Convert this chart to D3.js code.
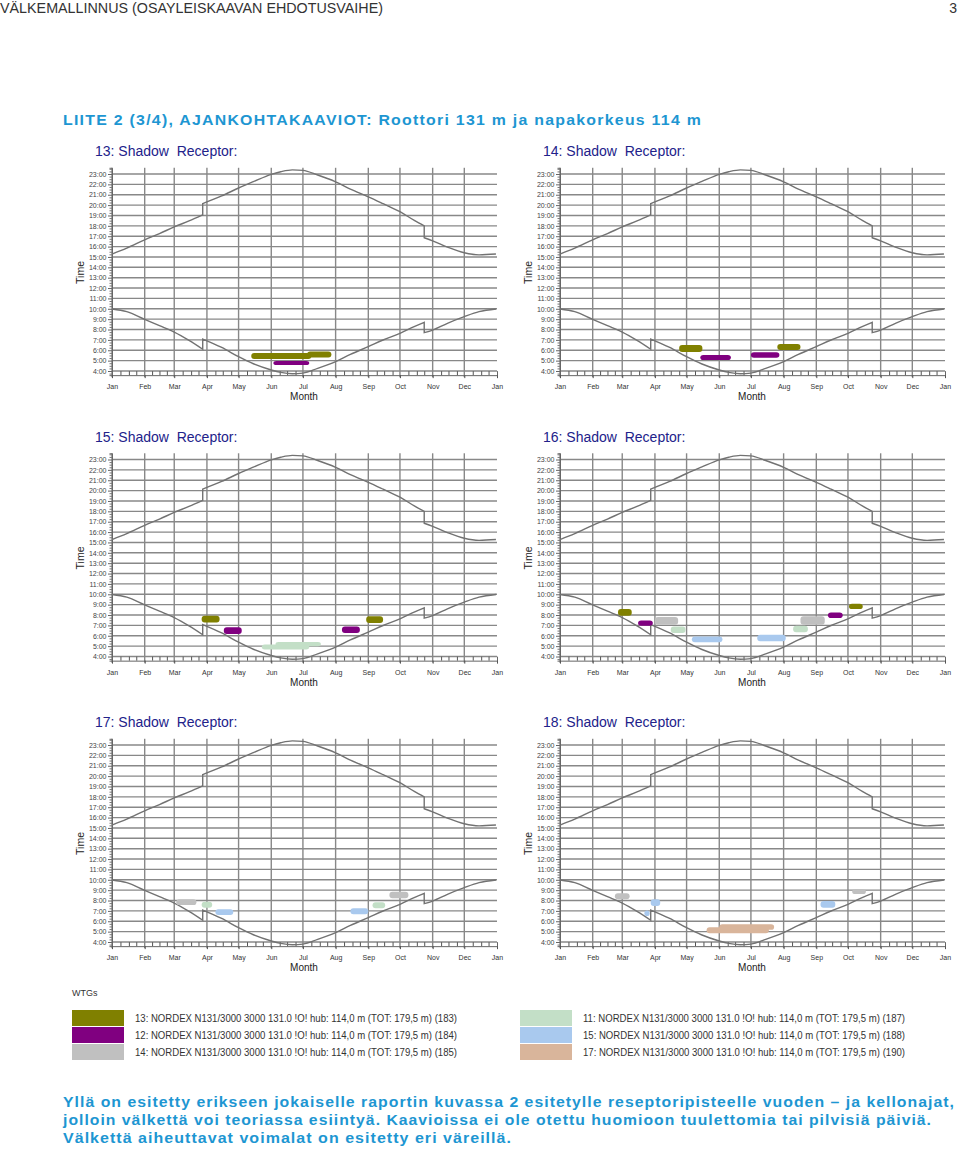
<!DOCTYPE html>
<html><head><meta charset="utf-8">
<script src="https://cdn.jsdelivr.net/npm/d3@7/dist/d3.min.js"></script>
<style>body{margin:0;background:#fff;} svg{display:block;font-family:"Liberation Sans",Arial,sans-serif;}</style>
</head><body>
<svg id="c" width="960" height="1154"></svg>
<script>
// ---------------- data ----------------
const monthLabels = ["Jan","Feb","Mar","Apr","May","Jun","Jul","Aug","Sep","Oct","Nov","Dec","Jan"];
const hourTicks = [4,5,6,7,8,9,10,11,12,13,14,15,16,17,18,19,20,21,22,23];
const sunDates = ["01-01","01-15","02-01","02-15","03-01","03-15","03-28","03-28","04-15","05-01","05-15","06-01","06-10","06-21","07-01","07-15","08-01","08-15","09-01","09-15","10-01","10-15","10-24","10-24","11-01","11-15","12-01","12-15","12-31"];
const sunsetHours = [15.28,15.85,16.65,17.25,17.9,18.47,19.05,20.15,20.88,21.65,22.26,22.97,23.22,23.4,23.35,22.9,22.25,21.55,20.8,20.14,19.37,18.5,18.0,16.85,16.55,15.95,15.4,15.2,15.28];
const sunriseHours = [9.98,9.72,8.98,8.37,7.75,6.95,6.1,7.08,6.27,5.38,4.7,4.1,3.87,3.74,3.8,4.25,4.9,5.6,6.35,6.99,7.63,8.3,8.69,7.7,7.95,8.6,9.24,9.72,9.98];

const turbineIds = ["13","12","14","11","15","17"];
const turbineColors = ["#808000","#800080","#c0c0c0","#c3dfc7","#a9c9ee","#d9b59b"];
const turbineLabels = [
  "13: NORDEX N131/3000 3000 131.0 !O! hub: 114,0 m (TOT: 179,5 m) (183)",
  "12: NORDEX N131/3000 3000 131.0 !O! hub: 114,0 m (TOT: 179,5 m) (184)",
  "14: NORDEX N131/3000 3000 131.0 !O! hub: 114,0 m (TOT: 179,5 m) (185)",
  "11: NORDEX N131/3000 3000 131.0 !O! hub: 114,0 m (TOT: 179,5 m) (187)",
  "15: NORDEX N131/3000 3000 131.0 !O! hub: 114,0 m (TOT: 179,5 m) (188)",
  "17: NORDEX N131/3000 3000 131.0 !O! hub: 114,0 m (TOT: 179,5 m) (190)"
];
const receptorTitles = ["13: Shadow  Receptor:","14: Shadow  Receptor:","15: Shadow  Receptor:","16: Shadow  Receptor:","17: Shadow  Receptor:","18: Shadow  Receptor:"];

// shadow periods: [turbine, from, to, start hour, end hour]
const shadow13 = [["13","05-13","07-09",5.15,5.73],["13","07-05","07-28",5.3,5.87],["12","06-03","07-07",4.58,4.97]];
const shadow14 = [["13","04-24","05-16",5.84,6.51],["12","05-14","06-12",5.06,5.55],["12","07-01","07-28",5.27,5.8],["13","07-26","08-17",6.03,6.6]];
const shadow15 = [["13","03-27","04-13",7.29,7.93],["12","04-17","05-04",6.18,6.81],["11","05-23","07-07",4.67,5.15],["11","06-05","07-18",4.99,5.41],["12","08-07","08-24",6.27,6.9],["13","08-30","09-15",7.23,7.87]];
const shadow16 = [["13","02-25","03-10",7.93,8.57],["12","03-16","03-30",6.97,7.48],["14","04-01","04-23",7.07,7.8],["11","04-16","04-30",6.27,6.9],["15","05-06","06-04",5.37,5.94],["15","07-07","08-03",5.46,6.1],["11","08-10","08-24",6.33,6.97],["14","08-17","09-09",7.07,7.87],["12","09-12","09-26",7.71,8.25],["13","10-02","10-15",8.57,9.08]];
const shadow17 = [["14","03-03","03-22",7.57,8.12],["11","03-27","04-06",7.31,7.89],["15","04-09","04-26",6.61,7.16],["15","08-15","09-01",6.67,7.25],["11","09-05","09-17",7.25,7.83],["14","09-21","10-09",8.22,8.85]];
const shadow18 = [["14","02-22","03-08",8.12,8.7],["15","03-22","03-27",6.5,7.05],["15","03-28","04-06",7.48,8.12],["17","05-20","07-18",4.84,5.43],["17","06-01","07-23",5.17,5.72],["15","09-05","09-19",7.31,7.96],["14","10-05","10-18",8.63,9.08]];
const shadowSets = [shadow13,shadow14,shadow15,shadow16,shadow17,shadow18];

const headerText = "VÄLKEMALLINNUS (OSAYLEISKAAVAN EHDOTUSVAIHE)";
const pageNo = "3";
const titleText = "LIITE 2 (3/4), AJANKOHTAKAAVIOT: Roottori 131 m ja napakorkeus 114 m";
const bodyLines = [
  "Yllä on esitetty erikseen jokaiselle raportin kuvassa 2 esitetylle reseptoripisteelle vuoden – ja kellonajat,",
  "jolloin välkettä voi teoriassa esiintyä. Kaavioissa ei ole otettu huomioon tuulettomia tai pilvisiä päiviä.",
  "Välkettä aiheuttavat voimalat on esitetty eri väreillä."
];

// ---------------- drawing ----------------
const svg = d3.select("#c");
const parse = d3.timeParse("%Y-%m-%d");
const md = s => parse("2013-" + s);
const t0 = parse("2013-01-01"), t1 = parse("2014-01-01");
const colorOf = d3.scaleOrdinal().domain(turbineIds).range(turbineColors);
const BLUE = "#1d96d2";
const NARROW = "'Liberation Sans Narrow','Liberation Sans',Arial,sans-serif";

svg.append("text").attr("x",0).attr("y",13).attr("font-size",14.5).attr("fill","#333").attr("font-family",NARROW)
  .attr("textLength",383).attr("lengthAdjust","spacingAndGlyphs").text(headerText);
svg.append("text").attr("x",957).attr("y",13).attr("font-size",14).attr("fill","#333").attr("text-anchor","end").attr("font-family",NARROW).text(pageNo);
svg.append("text").attr("x",63).attr("y",125).attr("font-size",15).attr("font-weight","bold").attr("fill",BLUE)
  .attr("font-family",NARROW).attr("letter-spacing",1.2)
  .attr("textLength",639).attr("lengthAdjust","spacingAndGlyphs").text(titleText);

const colX = [112,560], rowY = [174,459.5,745];
const W = 385, H = 197, k = H/19;

shadowSets.forEach((set,i) => {
  const ox = colX[i%2], oy = rowY[Math.floor(i/2)];
  const x = d3.scaleTime().domain([t0,t1]).range([ox, ox+W]);
  const y = d3.scaleLinear().domain([23.6,3.6]).range([oy-0.6*k, oy+19.4*k]);
  const top = y(23.6), bot = y(3.6);
  const g = svg.append("g");

  svg.append("text").attr("x",ox-17).attr("y",oy-18).attr("font-size",14).attr("fill","#22228a")
    .attr("xml:space","preserve").style("white-space","pre").text(receptorTitles[i]);

  const months = d3.timeMonth.range(t0,t1);
  // grid
  g.selectAll(".hg").data(hourTicks).join("line").attr("class","hg")
    .attr("x1",ox).attr("x2",ox+W).attr("y1",h=>y(h)).attr("y2",h=>y(h))
    .attr("stroke","#888").attr("stroke-width",1.4);
  g.selectAll(".vg").data(months).join("line").attr("class","vg")
    .attr("x1",m=>x(m)).attr("x2",m=>x(m)).attr("y1",top).attr("y2",bot+2)
    .attr("stroke","#888").attr("stroke-width",1.4);

  // y axis
  const minorH = d3.range(3.75,23.6,0.25).filter(v=>v%1!==0);
  const yMinor = d3.axisLeft(y).tickValues(minorH).tickSize(2.5).tickFormat("");
  const ym = g.append("g").attr("transform",`translate(${ox},0)`).call(yMinor);
  ym.select(".domain").attr("stroke","#666");
  ym.selectAll("line").attr("stroke","#777");
  const yAx = d3.axisLeft(y).tickValues(hourTicks).tickSize(4).tickPadding(1.5).tickFormat(h=>h+":00");
  const ya = g.append("g").attr("transform",`translate(${ox},0)`).call(yAx);
  ya.select(".domain").remove();
  ya.selectAll("line").attr("stroke","#666");
  ya.selectAll("text").attr("font-size",7).attr("fill","#444").attr("font-family","Liberation Sans, Arial, sans-serif");

  // x axis
  const monthTicks = months.concat([t1]);
  const minorD = [];
  months.forEach(m => { const n = d3.timeDay.count(m, d3.timeMonth.offset(m,1)); [1,2,3].forEach(q=>minorD.push(d3.timeDay.offset(m, Math.round(n*q/4)))); });
  const xm = g.append("g").attr("transform",`translate(0,${bot})`).call(d3.axisBottom(x).tickValues(minorD).tickSize(-4).tickFormat(""));
  xm.select(".domain").attr("stroke","#666");
  xm.selectAll("line").attr("stroke","#555");
  const xa = g.append("g").attr("transform",`translate(0,${bot})`)
    .call(d3.axisBottom(x).tickValues(monthTicks).tickSize(3).tickPadding(6).tickFormat((d,j)=>monthLabels[j]));
  xa.select(".domain").remove();
  xa.selectAll("line").attr("stroke","#555");
  xa.selectAll("text").attr("font-size",7).attr("fill","#333").attr("font-family","Liberation Sans, Arial, sans-serif");

  svg.append("text").attr("x",ox+192).attr("y",bot+25).attr("font-size",10).attr("fill","#222").attr("text-anchor","middle").text("Month");
  svg.append("text").attr("transform",`translate(${ox-28},${oy+H/2}) rotate(-90)`).attr("font-size",10.5).attr("fill","#222").attr("text-anchor","middle").text("Time");

  // sun curves: smooth segments, straight vertical jumps at DST changes
  const seg = d3.line().curve(d3.curveMonotoneX).x(p=>x(md(p[0]))).y(p=>y(p[1]));
  [sunsetHours, sunriseHours].forEach(arr => {
    const pts = sunDates.map((dd,j)=>[dd,arr[j]]);
    const parts = [[pts[0]]];
    for (let j=1;j<pts.length;j++){ if (pts[j][0]===pts[j-1][0]) parts.push([]); parts[parts.length-1].push(pts[j]); }
    const dstr = parts.map((p,j)=> j===0 ? seg(p) : "L" + seg(p).slice(1)).join("");
    g.append("path").attr("d", dstr)
      .attr("fill","none").attr("stroke","#727272").attr("stroke-width",1.4);
  });

  // shadow blobs
  g.selectAll(".blob").data(set).join("rect").attr("class","blob")
    .attr("x",s=>x(md(s[1]))).attr("width",s=>x(md(s[2]))-x(md(s[1])))
    .attr("y",s=>y(s[4])).attr("height",s=>y(s[3])-y(s[4]))
    .attr("rx",3).attr("ry",3).attr("fill",s=>colorOf(s[0]));
});

// legend
svg.append("text").attr("x",72).attr("y",996).attr("font-size",9).attr("fill","#333").attr("font-family",NARROW).text("WTGs");
turbineIds.forEach((id,j) => {
  const cx = j<3 ? 72 : 520, ry = 1010 + (j%3)*17;
  svg.append("rect").attr("x",cx).attr("y",ry).attr("width",52).attr("height",16).attr("fill",colorOf(id));
  svg.append("text").attr("x",cx+63).attr("y",ry+11.5).attr("font-size",10).attr("fill","#333").attr("font-family",NARROW)
    .attr("textLength",322).attr("lengthAdjust","spacingAndGlyphs").text(turbineLabels[j]);
});

// body text
const bodyLens = [892,869,449];
bodyLines.forEach((t,j) => {
  svg.append("text").attr("x",63).attr("y",1107+j*18).attr("font-size",15.5).attr("font-weight","bold").attr("fill",BLUE)
    .attr("font-family",NARROW).attr("letter-spacing",1)
    .attr("textLength",bodyLens[j]).attr("lengthAdjust","spacingAndGlyphs").text(t);
});
</script>
</body></html>
